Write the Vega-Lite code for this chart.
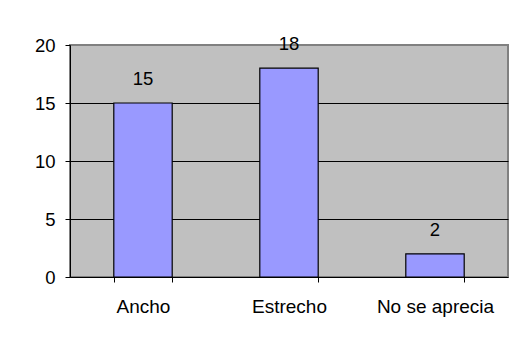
{
  "$schema": "https://vega.github.io/schema/vega-lite/v6.json",
  "width": 438,
  "height": 232,
  "autosize": {"type": "none"},
  "padding": {"left": 70, "top": 45, "right": 12, "bottom": 68},
  "background": "white",
  "config": {
    "view": {"fill": "#C0C0C0", "stroke": "#808080", "strokeWidth": 2},
    "font": "Liberation Sans"
  },
  "data": {
    "values": [
      {"categoria": "Ancho", "valor": 15},
      {"categoria": "Estrecho", "valor": 18},
      {"categoria": "No se aprecia", "valor": 2}
    ]
  },
  "encoding": {
    "x": {
      "field": "categoria",
      "type": "nominal",
      "sort": null,
      "scale": {"paddingInner": 0.6, "paddingOuter": 0.3},
      "axis": {
        "title": null,
        "labelAngle": 0,
        "labelFont": "Liberation Sans",
        "labelFontSize": 19,
        "labelColor": "black",
        "labelPadding": 15,
        "domainColor": "black",
        "domainWidth": 1,
        "tickColor": "black",
        "tickSize": 5,
        "tickBand": "extent",
        "grid": false
      }
    },
    "y": {
      "field": "valor",
      "type": "quantitative",
      "scale": {"domain": [0, 20], "nice": false},
      "axis": {
        "title": null,
        "values": [0, 5, 10, 15, 20],
        "labelFont": "Liberation Sans",
        "labelFontSize": 18.5,
        "labelColor": "black",
        "labelPadding": 10,
        "domainColor": "black",
        "domainWidth": 1,
        "tickColor": "black",
        "tickSize": 5,
        "grid": true,
        "gridColor": "black",
        "gridWidth": 1,
        "gridOpacity": {"condition": {"test": "datum.value == 20 || datum.value == 0", "value": 0}, "value": 1}
      }
    }
  },
  "layer": [
    {
      "mark": {"type": "bar", "fill": "#9999FF", "stroke": "black", "strokeWidth": 1.2}
    },
    {
      "mark": {"type": "text", "baseline": "alphabetic", "dy": -18, "fontSize": 18.5, "font": "Liberation Sans", "color": "black"},
      "encoding": {"text": {"field": "valor", "type": "quantitative"}}
    }
  ]
}
